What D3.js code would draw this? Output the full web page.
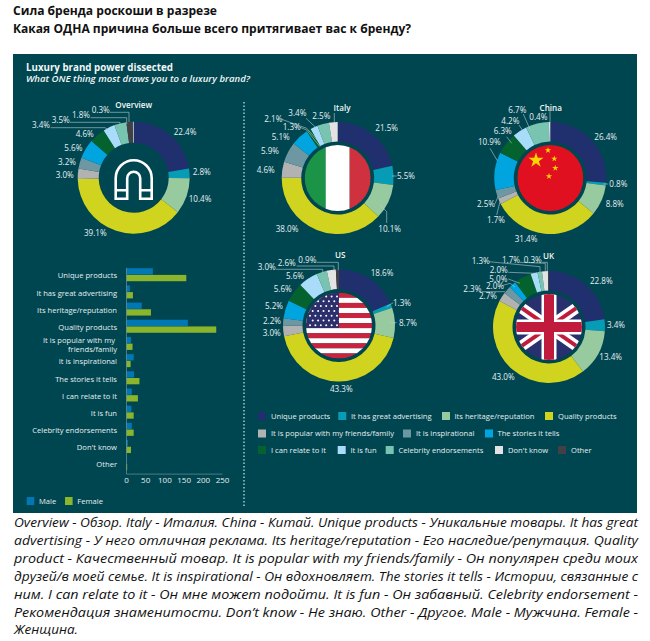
<!DOCTYPE html>
<html><head><meta charset="utf-8">
<script src="https://cdn.jsdelivr.net/npm/d3@7"></script>
<style>html,body{margin:0;padding:0;background:#fff}svg{display:block}text{font-family:"Open Sans",sans-serif}</style>
</head><body><svg id="c" width="650" height="641"></svg>
<script>
// ---------- data ----------
const categories = ["Unique products","It has great advertising","Its heritage/reputation","Quality products","It is popular with my friends/family","It is inspirational","The stories it tells","I can relate to it","It is fun","Celebrity endorsements","Don't know","Other"];
const overviewValues = [22.4,2.8,10.4,39.1,3.0,3.2,5.6,4.6,3.4,3.5,0.3,1.8];
const italyValues    = [21.5,5.5,10.1,38.0,4.6,5.9,5.1,1.3,2.1,3.4,2.5,0];
const chinaValues    = [26.4,0.8,8.8,31.4,1.7,2.5,10.9,6.3,4.2,6.7,0.4,0];
const usValues       = [18.6,1.3,8.7,43.3,3.0,2.2,5.2,5.6,5.6,3.0,2.6,0.9];
const ukValues       = [22.8,3.4,13.4,43.0,2.7,2.3,2.0,5.0,2.0,1.3,1.7,0.3];
const maleValues     = [70,10,41,161,13,20,21,15,14,15,5,1];
const femaleValues   = [157,18,65,235,17,12,35,31,20,20,13,3];
const barTicks = [0,50,100,150,200,250];
const titleLines = ["Сила бренда роскоши в разрезе","Какая ОДНА причина больше всего притягивает вас к бренду?"];
const noteLines = [
 "Overview - Обзор. Italy - Италия. China - Китай. Unique products - Уникальные товары. It has great",
 "advertising - У него отличная реклама. Its heritage/reputation - Его наследие/репутация. Quality",
 "product - Качественный товар. It is popular with my friends/family - Он популярен среди моих",
 "друзей/в моей семье. It is inspirational - Он вдохновляет. The stories it tells - Истории, связанные с",
 "ним. I can relate to it - Он мне может подойти. It is fun - Он забавный. Celebrity endorsement -",
 "Рекомендация знаменитости. Don’t know - Не знаю. Other - Другое. Male - Мужчина. Female -",
 "Женщина."];

// ---------- styles and layout ----------
const palette = ["#20306f","#069cb6","#97ca9f","#d0d41f","#b2b2b2","#6d97a3","#00a5df","#04622f","#a9dcf8","#79c4b0","#e3e3e3","#423f45"];
const panelColor = "#004650", labelColor = "#e6eff0";
const donuts = [
 {name:"Overview",values:overviewValues,cx:133.7,cy:177.7,inner:35,title:[133.7,105.5],order:[0,1,2,3,4,5,6,7,8,9,11,10],
  labels:[[185,132],[201.7,172.5],[200,199],[95.3,233],[64.7,175],[67,162],[73.3,148],[84.7,134],[41,125.5],[60.7,120],[100.7,110.5],[81,115.5]],
  leaders:[[[110,112.3],[129,112.3],[129,122]],[[90.7,117.7],[126.7,117.7],[126.7,124]],[[70,122.3],[120,122.3],[120,125]],[[50.7,127.7],[105,127.7],[107,129]]]},
 {name:"Italy",values:italyValues,cx:337.7,cy:178,inner:36.5,title:[342,107.7],
  labels:[[386.7,128.3],[406,176],[389.7,229.3],[287,228.7],[265.7,170.3],[270,151],[280.7,136.7],[291.7,126.7],[273.3,118.7],[297.3,112.7],[321.3,116]],
  leaders:[[[391.7,176],[396.7,176]],[[380,205],[386.7,211.7],[386.7,223]],[[300,127.3],[306.7,130],[320,146.7]],[[281.7,119.3],[306.7,128.3],[318,141]],[[306,118.3],[315,126.7]],[[334.3,113],[334.3,122]]]},
 {name:"China",values:chinaValues,cx:550.3,cy:178,inner:36.5,title:[550.7,107.7],
  labels:[[605.7,136.7],[618.3,184],[614.7,203.7],[526,239.3],[496,220.3],[486,203.7],[489.3,141.7],[502.7,131],[510.3,121.3],[517.3,110],[538.3,116.7]],
  leaders:[[[490,148.3],[497.3,160.7]],[[506.7,136.7],[511.7,143.3]],[[519,125],[523,131]],[[523.3,114],[530,129.3]],[[550,110],[550,122.3]],[[495,203.7],[498.3,196]],[[496.7,215],[500,201.7]],[[603.3,184],[608.3,184]]]},
 {name:"US",values:usValues,cx:339,cy:325.5,inner:36.5,title:[340.3,255],
  labels:[[382,273],[402,302.7],[408,323.3],[341.3,389.3],[271.7,332.7],[272,321.3],[274,305.7],[282.7,289],[295,275.7],[266.7,266.7],[286.7,263.3],[307.3,260]],
  leaders:[[[316.7,262.3],[338.3,262.3],[338.3,270]],[[296.7,266],[334,266],[334,271]],[[276,269.3],[322.7,269.3],[322.7,273]],[[386.7,306.7],[393.3,302.7]],[[390,322.7],[396.7,322.7]]]},
 {name:"UK",values:ukValues,cx:549,cy:327,inner:36.5,title:[548.7,256],
  labels:[[601.3,281],[616,325],[610.7,357.3],[503.3,377],[488,296],[472.3,288.7],[495,285.7],[498.3,279],[498.7,270],[480.7,261],[511,260],[532.7,260]],
  leaders:[[[542.3,262.3],[547.3,262.3],[547.3,271]],[[520,262.3],[545.3,263.3],[545.3,272]],[[489,261.7],[540,266.7],[540,272]],[[508.3,272.3],[535,273.3],[536,276]],[[508.3,279],[520,283.3]],[[501.7,285.7],[510,283.3],[515,287]],[[481.7,291.7],[505,291.7]]]}
];
const legendRows = [[[0,258,271],[1,338.3,351],[2,442,454.5],[3,545,558]],[[4,258,271],[5,403,416],[6,485,497.5]],[[7,258,271],[8,337.7,350.5],[9,385.7,398.5],[10,495,508],[11,558,571]]];
const legendY = [416,433.5,450];

const svg = d3.select("#c");
const fmt = d3.format(".1f");
const defs = svg.append("defs");

// ---------- page text ----------
svg.selectAll("text.head").data(titleLines).join("text").attr("class","head")
  .attr("x",13).attr("y",(d,i)=>15+i*18).attr("font-size",13).attr("font-weight",700).attr("fill","#111")
  .attr("textLength",(d,i)=>[204,398][i]).attr("lengthAdjust","spacingAndGlyphs").text(d=>d);
svg.append("rect").attr("x",13).attr("y",54).attr("width",624).attr("height",459).attr("fill",panelColor);
svg.append("text").attr("x",26).attr("y",70.5).attr("font-size",9.7).attr("font-weight",700).attr("fill","#f2f6f6")
  .attr("textLength",147).attr("lengthAdjust","spacingAndGlyphs").text("Luxury brand power dissected");
svg.append("text").attr("x",26).attr("y",82).attr("font-size",9.6).attr("font-weight",600).attr("font-style","italic").attr("fill","#f2f6f6")
  .attr("textLength",224).attr("lengthAdjust","spacingAndGlyphs").text("What ONE thing most draws you to a luxury brand?");
svg.selectAll("text.note").data(noteLines).join("text").attr("class","note")
  .attr("x",14).attr("y",(d,i)=>527+i*17.9).attr("font-size",13.5).attr("font-style","italic").attr("fill","#111")
  .attr("textLength",(d,i)=>i===6?64:624).attr("lengthAdjust","spacingAndGlyphs").text(d=>d);
svg.append("line").attr("x1",244).attr("x2",244).attr("y1",102).attr("y2",506)
  .attr("stroke","#9fc0c4").attr("stroke-width",1.6).attr("stroke-dasharray","1.6 1.9");

// ---------- donuts ----------
const arc = d3.arc();
donuts.forEach((dn,k)=>{
  const order = dn.order || d3.range(categories.length);
  const pie = d3.pie().value(d=>d.v).sort((a,b)=>order.indexOf(a.i)-order.indexOf(b.i)).startAngle(0).endAngle(2*Math.PI);
  const rows = dn.values.map((v,i)=>({v,i}));
  const g = svg.append("g");
  g.append("g").attr("transform",`translate(${dn.cx},${dn.cy})`).selectAll("path").data(pie(rows)).join("path")
    .attr("d",d=>arc({innerRadius:dn.inner,outerRadius:56,startAngle:d.startAngle,endAngle:d.endAngle}))
    .attr("fill",d=>palette[d.data.i]);
  g.selectAll("polyline").data(dn.leaders).join("polyline")
    .attr("points",d=>d.map(p=>p.join(",")).join(" ")).attr("fill","none").attr("stroke","#b5cdd0").attr("stroke-width",0.6);
  g.selectAll("text.v").data(rows.filter(r=>r.v>0)).join("text").attr("class","v")
    .attr("x",d=>dn.labels[d.i][0]).attr("y",d=>dn.labels[d.i][1]).attr("dy","0.35em").attr("text-anchor","middle")
    .attr("font-size",8.1).attr("fill",labelColor).text(d=>fmt(d.v)+"%");
  g.append("text").attr("x",dn.title[0]).attr("y",dn.title[1]).attr("dy","0.35em").attr("text-anchor","middle")
    .attr("font-size",8.1).attr("font-weight",600).attr("fill","#f2f6f6").text(dn.name);
  const f = g.append("g").attr("transform",`translate(${dn.cx},${dn.cy})`);
  if(dn.name==="Overview") drawMagnet(f); else { 
    defs.append("clipPath").attr("id","clip"+k).append("circle").attr("r",33);
    const c = f.append("g").attr("clip-path",`url(#clip${k})`);
    ({Italy:drawItaly,China:drawChina,US:drawUS,UK:drawUK})[dn.name](c);
  }
});
function drawMagnet(g){
  g.append("path").attr("d","M-18,21V0.5A18,18 0 0 1 18,0.5V21H6.5V0.5A6.5,6.5 0 0 0 -6.5,0.5V21Z M-18,12.5H-6.5 M6.5,12.5H18")
   .attr("fill","none").attr("stroke","#fff").attr("stroke-width",2.6);
}
function drawItaly(g){
  [["#1c9448",-33,21],["#fff",-12,24],["#d0313f",12,21]].forEach(s=>g.append("rect").attr("x",s[1]).attr("y",-33).attr("width",s[2]).attr("height",66).attr("fill",s[0]));
}
function drawChina(g){
  g.append("rect").attr("x",-33).attr("y",-33).attr("width",66).attr("height",66).attr("fill","#e01020");
  [[-14.3,-17.7,70],[-2.3,-27.7,12],[4,-19.3,12],[5,-10,12],[-1.3,-1.7,12]].forEach(s=>
    g.append("path").attr("d",d3.symbol(d3.symbolStar,s[2])()).attr("transform",`translate(${s[0]},${s[1]})`).attr("fill","#ffd500"));
}
function drawUS(g){
  d3.range(13).forEach(i=>g.append("rect").attr("x",-33).attr("y",-32.7+i*5.05).attr("width",66).attr("height",5.1).attr("fill",i%2?"#fff":"#c8243f"));
  g.append("rect").attr("x",-33).attr("y",-33).attr("width",33).attr("height",35.4).attr("fill","#2b2f6b");
  d3.range(7).forEach(r=>d3.range(6).forEach(c=>g.append("circle").attr("cx",-29+c*5.4+(r%2?2.7:0)).attr("cy",-29+r*4.8).attr("r",1).attr("fill","#fff")));
}
function drawUK(g){
  g.append("rect").attr("x",-33).attr("y",-33).attr("width",66).attr("height",66).attr("fill","#28306e");
  const diag = (w,col)=>["M-36,-25L36,25","M-36,25L36,-25"].forEach(d=>g.append("path").attr("d",d).attr("stroke",col).attr("stroke-width",w));
  diag(11,"#fff"); diag(4,"#c01a3c");
  [[15,"#fff"],[10,"#c01a3c"]].forEach(s=>{
    g.append("rect").attr("x",-s[0]/2).attr("y",-33).attr("width",s[0]).attr("height",66).attr("fill",s[1]);
    g.append("rect").attr("x",-33).attr("y",-s[0]/2).attr("width",66).attr("height",s[0]).attr("fill",s[1]);
  });
}

// ---------- legend ----------
legendRows.forEach((row,r)=>{
  const g = svg.append("g").selectAll("g").data(row).join("g");
  g.append("rect").attr("x",d=>d[1]).attr("y",legendY[r]-4).attr("width",8).attr("height",8).attr("fill",d=>palette[d[0]]);
  g.append("text").attr("x",d=>d[2]).attr("y",legendY[r]).attr("dy","0.35em").attr("font-size",7.6).attr("fill",labelColor).text(d=>categories[d[0]]);
});

// ---------- bars ----------
const x = d3.scaleLinear().domain([0,250]).range([126,222]);
const y = d3.scaleBand().domain(categories).range([267.4,473.6]);
const barG = svg.append("g");
const bh = 6.3;
[[maleValues,"#0078b4",0.8],[femaleValues,"#8bb62c",7.5]].forEach(([vals,col,off])=>{
  barG.append("g").selectAll("rect").data(categories).join("rect")
    .attr("x",x(0)).attr("y",c=>y(c)+off).attr("height",bh)
    .attr("width",(c,i)=>x(vals[i])-x(0)).attr("fill",col);
});
const ax = svg.append("g").attr("transform","translate(0,473.6)").call(d3.axisBottom(x).tickValues(barTicks).tickSize(0).tickPadding(4));
ax.select(".domain").attr("stroke","#5f8a90").attr("stroke-width",0.8);
ax.selectAll("text").attr("font-size",8).attr("fill",labelColor).style("font-family",'"Open Sans",sans-serif');
const ay = svg.append("g").attr("transform","translate(126,0)").call(d3.axisLeft(y).tickSize(0).tickPadding(9));
ay.select(".domain").attr("stroke","#5f8a90").attr("stroke-width",0.8);
ay.selectAll("text").attr("font-size",7.6).attr("fill",labelColor).style("font-family",'"Open Sans",sans-serif')
  .each(function(c){
    if(c.startsWith("It is popular")){
      const t=d3.select(this); t.text(null).attr("dy",null);
      t.append("tspan").attr("x",-9).attr("y",-4.5).attr("dy","0.35em").attr("dx",-2).text("It is popular with my");
      t.append("tspan").attr("x",-9).attr("y",4.5).attr("dy","0.35em").text("friends/family");
    }
  });
[["Male","#0078b4",26.7,39],["Female","#8bb62c",65,77.3]].forEach(l=>{
  svg.append("rect").attr("x",l[2]).attr("y",497).attr("width",7.6).attr("height",8).attr("fill",l[1]);
  svg.append("text").attr("x",l[3]).attr("y",501).attr("dy","0.35em").attr("font-size",7.6).attr("fill",labelColor).text(l[0]);
});
</script></body></html>
